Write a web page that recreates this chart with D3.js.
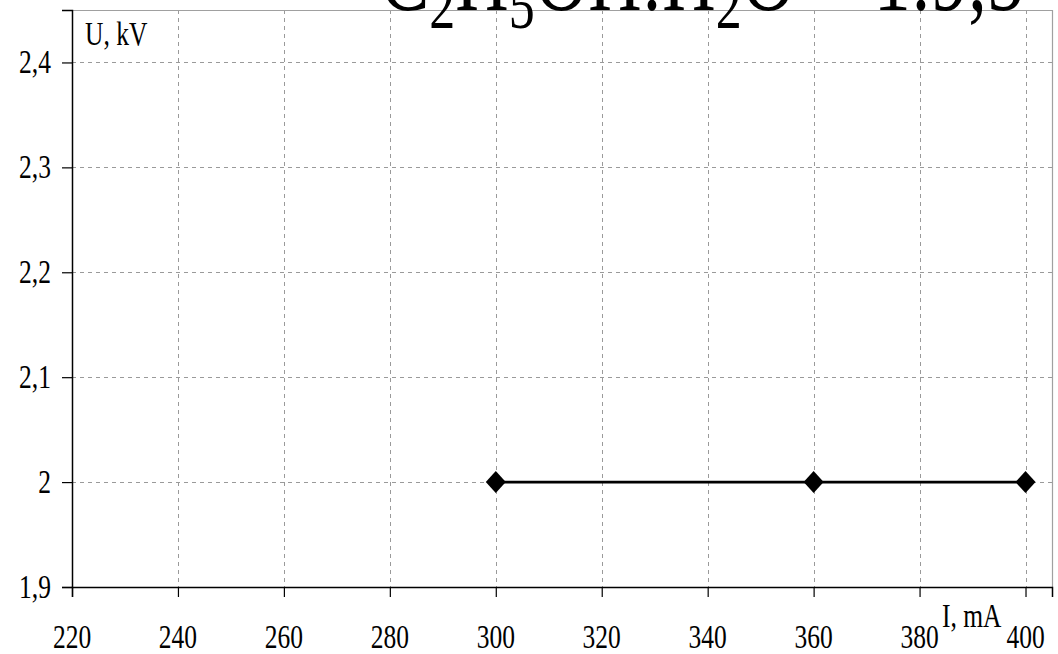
<!DOCTYPE html>
<html>
<head>
<meta charset="utf-8">
<script src="https://cdn.jsdelivr.net/npm/d3@7"></script>
<style>
  html, body { margin: 0; padding: 0; background: #fff; }
  svg { display: block; }
  text { font-family: "Liberation Serif", "Times New Roman", serif; fill: #000; }
</style>
</head>
<body>
<svg id="chart" width="1058" height="654"></svg>
<script>
// Data
const currentMA = [300, 360, 400];
const voltageKV = [2, 2, 2];
const xTicks = [220, 240, 260, 280, 300, 320, 340, 360, 380, 400];
const yTicks = [1.9, 2.0, 2.1, 2.2, 2.3, 2.4];
const xDomain = [220, 405];
const yDomain = [1.9, 2.45];
const titleParts = [["C", false], ["2", true], ["H", false], ["5", true], ["OH:H", false], ["2", true], ["O = 1:9,5", false]];

const svg = d3.select("#chart");
const m = { left: 72, top: 10, right: 1052, bottom: 587 };
const x = d3.scaleLinear().domain(xDomain).range([m.left, m.right]);
const y = d3.scaleLinear().domain(yDomain).range([m.bottom, m.top]);
const fmt = d => String(+d.toFixed(1)).replace(".", ",");
const VS = 1.32; // vertical stretch of text

// Grid
const grid = svg.append("g");
grid.selectAll("line.v").data(xTicks.filter(t => t > xDomain[0])).enter().append("line")
  .attr("x1", d => Math.round(x(d)) + 0.5).attr("x2", d => Math.round(x(d)) + 0.5)
  .attr("y1", m.top).attr("y2", m.bottom)
  .attr("stroke", "#9a9a9a").attr("stroke-width", 1).attr("stroke-dasharray", "4,4");
grid.selectAll("line.h").data(yTicks.filter(t => t > yDomain[0])).enter().append("line")
  .attr("x1", m.left).attr("x2", m.right)
  .attr("y1", d => Math.round(y(d)) + 0.5).attr("y2", d => Math.round(y(d)) + 0.5)
  .attr("stroke", "#9a9a9a").attr("stroke-width", 1).attr("stroke-dasharray", "4,4");

// Frame (top & right gray)
svg.append("path")
  .attr("d", `M${m.left},${m.top + 0.5}H${m.right + 0.5}V${m.bottom}`)
  .attr("fill", "none").attr("stroke", "#a0a0a0").attr("stroke-width", 1.2);

// Axes
const xAxis = d3.axisBottom(x).tickValues(xTicks).tickSize(10).tickFormat("");
const yAxis = d3.axisLeft(y).tickValues(yTicks).tickSize(10).tickFormat("");
const gx = svg.append("g").attr("transform", `translate(0,${m.bottom})`).call(xAxis);
const gy = svg.append("g").attr("transform", `translate(${m.left},0)`).call(yAxis);
[gx, gy].forEach(g => {
  g.select(".domain").attr("stroke", "#000").attr("stroke-width", 1.5);
  g.selectAll(".tick line").attr("stroke", "#000").attr("stroke-width", 1.2);
});

// Stretched text helper
function stext(px, py, str, anchor, size) {
  return svg.append("text")
    .attr("transform", `translate(${px},${py}) scale(1,${VS})`)
    .attr("text-anchor", anchor)
    .style("font-size", size + "px")
    .text(str);
}

// Tick labels
xTicks.forEach(t => stext(x(t), 648, t, "middle", 25.5));
yTicks.forEach(t => stext(51, y(t) + 10.5, fmt(t), "end", 25.5));

// Axis titles
stext(85, 45, "U, kV", "start", 25.5);
stext(942, 627, "I, mA", "start", 25.5);

// Title (subscripts shifted down; dy applied on non-empty spans only)
const title = svg.append("text")
  .attr("transform", `translate(380,10) scale(1,${VS})`)
  .attr("text-anchor", "start")
  .style("font-size", "74px");
let prevSub = false;
titleParts.forEach(([s, sub]) => {
  const dy = sub ? 14 : (prevSub ? -14 : 0);
  title.append("tspan")
    .attr("dy", dy)
    .style("font-size", sub ? "52px" : "74px")
    .text(s);
  prevSub = sub;
});

// Line & markers
const pts = currentMA.map((c, i) => [c, voltageKV[i]]);
svg.append("path")
  .datum(pts)
  .attr("d", d3.line().x(d => x(d[0])).y(d => y(d[1])))
  .attr("fill", "none").attr("stroke", "#000").attr("stroke-width", 2.6);
svg.selectAll("path.mk").data(pts).enter().append("path")
  .attr("transform", d => `translate(${x(d[0])},${y(d[1])})`)
  .attr("d", "M0,-11L10,0L0,11L-10,0Z")
  .attr("fill", "#000");
</script>
</body>
</html>
